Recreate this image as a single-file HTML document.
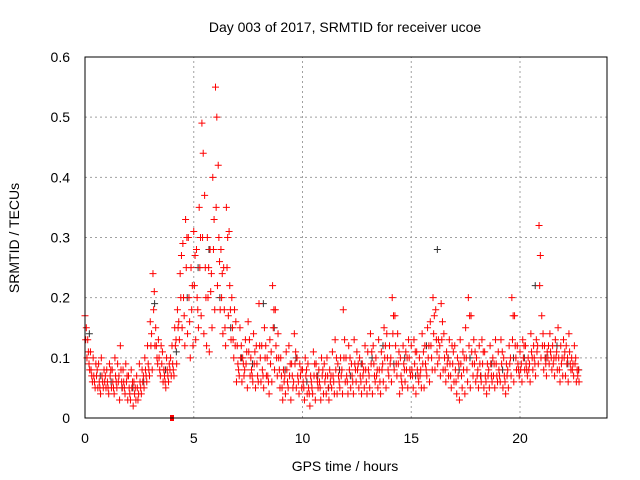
<!DOCTYPE html>
<html><head><meta charset="utf-8"><style>
body{margin:0;background:#fff;}
svg{display:block;font-family:"Liberation Sans",sans-serif;}
</style></head><body>
<svg id="chart" width="640" height="480" xmlns="http://www.w3.org/2000/svg">
<text x="345" y="32" font-size="14" text-anchor="middle" fill="#000">Day 003 of 2017, SRMTID for receiver ucoe</text>
<text transform="translate(19,238) rotate(-90)" font-size="14" text-anchor="middle">SRMTID / TECUs</text>
<text x="345" y="471" font-size="14" text-anchor="middle">GPS time / hours</text>
<g id="grid"></g>
<g id="ticks"></g>
<g id="marks"></g>
<rect x="85" y="57" width="522" height="361" fill="none" stroke="#000" stroke-width="1"/>
</svg>
<script>
const xTicks=[0,5,10,15,20];
const yTicks=[0,0.1,0.2,0.3,0.4,0.5,0.6];
const yTickLabels=["0","0.1","0.2","0.3","0.4","0.5","0.6"];
const binStep=0.125;
const redHi=[.17,.13,.11,.1,.09,.09,.1,.08,
.08,.09,.08,.1,.09,.12,.08,.09,
.07,.08,.06,.07,.09,.08,.1,.12,
.16,.24,.15,.13,.12,.08,.1,.09,
.12,.15,.18,.24,.29,.33,.3,.25,
.31,.28,.35,.49,.37,.3,.28,.4,
.55,.42,.28,.25,.35,.31,.2,.18,
.12,.15,.1,.13,.16,.1,.14,.12,
.19,.12,.15,.1,.13,.22,.18,.14,
.1,.08,.11,.12,.09,.14,.1,.09,
.08,.1,.09,.07,.11,.09,.08,.1,
.09,.1,.08,.11,.13,.09,.1,.18,
.1,.12,.09,.13,.11,.1,.09,.12,
.11,.14,.12,.1,.13,.11,.15,.14,
.12,.2,.17,.14,.1,.12,.11,.13,
.12,.13,.11,.1,.14,.12,.15,.16,
.2,.18,.13,.19,.14,.11,.13,.12,
.12,.1,.13,.11,.15,.2,.17,.13,
.1,.12,.13,.11,.09,.12,.1,.13,
.11,.13,.1,.09,.12,.2,.17,.12,
.11,.13,.12,.1,.14,.12,.13,.32,
.17,.12,.11,.14,.12,.13,.15,.12,
.13,.12,.14,.1,.12,.08];
const redMid=[.13,.11,.08,.07,.07,.06,.07,.06,
.06,.07,.06,.07,.06,.08,.06,.06,
.05,.05,.04,.05,.06,.06,.08,.09,
.12,.18,.12,.1,.09,.07,.08,.08,
.09,.12,.15,.2,.2,.25,.2,.18,
.22,.2,.25,.3,.25,.2,.21,.28,
.35,.3,.2,.18,.25,.22,.15,.12,
.09,.1,.09,.09,.11,.08,.09,.09,
.12,.08,.1,.07,.09,.15,.12,.1,
.07,.06,.08,.07,.07,.09,.07,.07,
.06,.07,.05,.06,.07,.07,.06,.07,
.06,.07,.06,.07,.08,.07,.07,.1,
.07,.08,.07,.09,.08,.07,.07,.08,
.08,.09,.09,.07,.08,.08,.1,.1,
.09,.14,.12,.09,.07,.09,.08,.1,
.08,.09,.08,.07,.09,.09,.1,.12,
.14,.13,.1,.13,.1,.09,.09,.09,
.08,.07,.09,.08,.1,.12,.11,.09,
.07,.09,.09,.07,.07,.09,.07,.09,
.08,.09,.07,.07,.09,.13,.12,.09,
.08,.1,.09,.08,.11,.1,.11,.22,
.12,.1,.1,.11,.09,.1,.1,.09,
.1,.09,.11,.08,.09,.07];
const redAlt=[.15,.09,.07,.06,.08,.05,.06,.07,
.05,.08,.05,.06,.07,.06,.05,.07,
.04,.06,.05,.03,.05,.07,.07,.08,
.14,.21,.1,.08,.11,.06,.07,.1,
.08,.13,.16,.27,.17,.3,.16,.22,
.27,.18,.3,.44,.2,.25,.24,.33,
.5,.26,.24,.15,.3,.18,.13,.16,
.08,.12,.07,.11,.13,.07,.11,.07,
.1,.07,.12,.06,.11,.18,.1,.08,
.05,.07,.06,.09,.05,.11,.06,.08,
.05,.08,.04,.05,.09,.06,.05,.08,
.07,.05,.07,.06,.1,.06,.08,.13,
.06,.1,.06,.08,.09,.06,.08,.06,
.07,.11,.07,.08,.06,.09,.12,.08,
.1,.17,.09,.11,.06,.08,.1,.08,
.07,.11,.07,.08,.11,.08,.12,.1,
.17,.11,.12,.16,.08,.1,.07,.11,
.06,.09,.07,.1,.08,.17,.09,.11,
.08,.07,.11,.06,.08,.07,.09,.07,
.07,.11,.06,.08,.1,.17,.1,.08,
.09,.12,.08,.09,.1,.09,.12,.27,
.14,.09,.12,.1,.1,.11,.08,.1,
.11,.1,.09,.09,.1,.08];
const redLo=[.1,.08,.06,.05,.05,.04,.05,.05,
.04,.05,.04,.05,.03,.05,.04,.03,
.03,.02,.03,.04,.04,.05,.06,.07,
.08,.12,.09,.07,.06,.05,.06,.07,
.07,.09,.13,.15,.12,.14,.1,.12,
.13,.15,.17,.14,.12,.11,.15,.18,
.22,.18,.14,.12,.17,.13,.1,.06,
.07,.06,.08,.05,.07,.06,.05,.06,
.06,.05,.07,.04,.06,.08,.07,.05,
.03,.04,.05,.03,.06,.05,.04,.05,
.03,.04,.02,.04,.03,.05,.03,.04,
.04,.03,.05,.04,.04,.05,.04,.06,
.04,.05,.04,.06,.05,.04,.05,.04,
.05,.04,.06,.05,.04,.06,.05,.07,
.06,.08,.07,.04,.05,.06,.05,.07,
.05,.04,.06,.05,.05,.07,.06,.08,
.08,.09,.07,.08,.06,.07,.05,.06,
.04,.03,.05,.04,.06,.05,.07,.06,
.05,.06,.05,.04,.05,.06,.05,.06,
.06,.05,.04,.05,.07,.06,.08,.07,
.06,.08,.07,.06,.08,.07,.09,.1,
.08,.07,.09,.08,.07,.08,.06,.07,
.07,.06,.08,.07,.06,.06];
const blackStep=0.5;
const blackVals=[.14,.07,.06,.05,.05,.06,.19,.08,.11,.2,.25,.28,.2,.15,.1,.09,.19,.15,.08,.1,.06,.07,.05,.08,.07,.09,.1,.12,.09,.1,.07,.12,.28,.1,.08,.1,.07,.09,.08,.1,.1,.22,.1,.12,.09,.08];

const X0=85,X1=607,Y0=418,Y1=57,XMAX=24,YMAX=0.6;
const xs=v=>X0+(X1-X0)*v/XMAX;
const ys=v=>Y0-(Y0-Y1)*v/YMAX;
const NS="http://www.w3.org/2000/svg";
const grid=document.getElementById('grid'),ticks=document.getElementById('ticks'),marks=document.getElementById('marks');
function mk(tag,attrs,parent){const e=document.createElementNS(NS,tag);for(const k in attrs)e.setAttribute(k,attrs[k]);parent.appendChild(e);return e;}
yTicks.forEach((t,i)=>{
  const y=ys(t);
  if(i>0&&i<yTicks.length-1){const g=mk('line',{x1:X0,x2:X1,y1:y,y2:y,stroke:'#a0a0a0','stroke-dasharray':'2,3'},grid);
  
  }
  const tx=mk('text',{x:70,y:y+5,'font-size':14,'text-anchor':'end'},ticks);
  tx.textContent=yTickLabels[i];
  
  
});
xTicks.forEach(t=>{
  const x=xs(t);
  if(t>0){const g=mk('line',{x1:x,x2:x,y1:Y0,y2:Y1,stroke:'#a0a0a0','stroke-dasharray':'2,3'},grid);
  
  }
  const tx=mk('text',{x:x,y:443,'font-size':14,'text-anchor':'middle'},ticks);
  tx.textContent=String(t);
  
  
});
function plus(x,y,color,name){
  const p=mk('path',{d:`M${x-3.5},${y}h7M${x},${y-3.5}v7`,stroke:color,'stroke-width':1,fill:'none'},marks);
  
  
}
blackVals.forEach((v,i)=>plus(xs(i*blackStep+0.2),ys(v),'#333','black-point'));
[redHi,redMid,redAlt,redLo].forEach((arr,k)=>arr.forEach((v,i)=>plus(xs(i*binStep+k*0.03),ys(v),'#f00','red-point')));
const sq=mk('rect',{x:xs(4)-2,y:Y0-3,width:4,height:6,fill:'#f00'},marks);


</script>
</body></html>
